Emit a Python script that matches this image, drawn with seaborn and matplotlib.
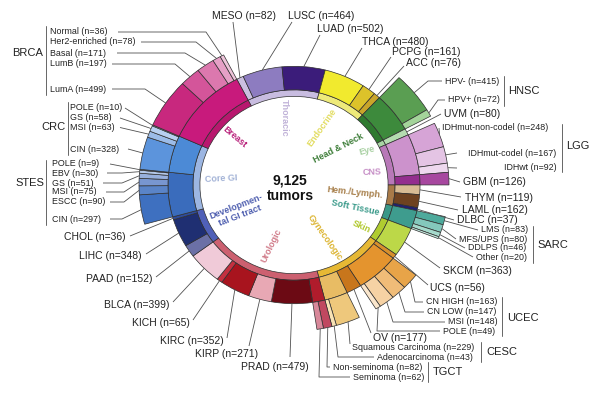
import numpy as np
import matplotlib
matplotlib.use("Agg")
import matplotlib.pyplot as plt
import seaborn as sns

# ---- data -------------------------------------------------------------
cancers = ["MESO", "LUSC", "LUAD", "THCA", "PCPG", "ACC", "HNSC", "UVM", "LGG", "GBM",
           "THYM", "LAML", "DLBC", "SARC", "SKCM", "UCS", "UCEC", "OV", "CESC", "TGCT",
           "PRAD", "KIRP", "KIRC", "KICH", "BLCA", "PAAD", "LIHC", "CHOL", "STES", "CRC", "BRCA"]
cancer_n = [82, 464, 502, 480, 161, 76, 487, 80, 507, 126,
            119, 162, 37, 229, 363, 56, 507, 177, 272, 144,
            479, 271, 352, 65, 399, 152, 348, 36, 552, 459, 981]
cancer_colors = ["#cbbfe0", "#8d7cc0", "#3b1c7a", "#f1ea2e", "#dcc22a", "#c9a52a", "#3d8a3c",
                 "#b4dcb0", "#cc92cc", "#932e8e", "#d8bc94", "#6e4220", "#222070", "#3e9c8e",
                 "#bcd848", "#d8902c", "#e4942e", "#c8761c", "#e8bc64", "#b01c2c", "#6c0a14",
                 "#e8a8b4", "#a8141e", "#c43040", "#f0cad8", "#6b70a6", "#1f2f72", "#2e4c9c",
                 "#3a6cbc", "#4c8ad6", "#c81a7c"]

systems = ["Thoracic", "Endocrine", "Head & Neck", "Eye", "CNS", "Hem./Lymph.", "Soft Tissue",
           "Skin", "Gynecologic", "Urologic", "Developmen-\ntal GI tract", "Core GI", "Breast"]
system_n = [1048, 717, 487, 80, 633, 318, 229, 363, 1012, 1710, 536, 1011, 981]
system_colors = ["#c8bce0", "#eeea7a", "#2f7a30", "#a8d4a4", "#b878b8", "#a87a48", "#3a9888",
                 "#b0cc30", "#e6b834", "#cc6070", "#5060b8", "#9cb6e2", "#b8186e"]
system_text_colors = ["#c0b2d8", "#e2dc5e", "#3f7f3a", "#a6cfa0", "#c68ec6", "#a8804c", "#3a9a8a",
                      "#b0c82c", "#dcb430", "#d07a88", "#5060b0", "#a2b2d6", "#b8207a"]

sub_parent = ["HNSC", "HNSC", "LGG", "LGG", "LGG", "SARC", "SARC", "SARC", "SARC",
              "UCEC", "UCEC", "UCEC", "UCEC", "CESC", "CESC", "TGCT", "TGCT",
              "STES", "STES", "STES", "STES", "STES", "STES", "CRC", "CRC", "CRC", "CRC",
              "BRCA", "BRCA", "BRCA", "BRCA", "BRCA"]
sub_names = ["HPV-", "HPV+", "IDHmut-non-codel", "IDHmut-codel", "IDHwt",
             "LMS", "MFS/UPS", "DDLPS", "Other", "CN HIGH", "CN LOW", "MSI", "POLE",
             "Squamous Carcinoma", "Adenocarcinoma", "Non-seminoma", "Seminoma",
             "CIN", "ESCC", "MSI", "GS", "EBV", "POLE", "CIN", "MSI", "GS", "POLE",
             "LumA", "LumB", "Basal", "Her2-enriched", "Normal"]
sub_n = [415, 72, 248, 167, 92, 83, 80, 46, 20, 163, 147, 148, 49, 229, 43, 82, 62,
         297, 90, 75, 51, 30, 9, 328, 63, 58, 10, 499, 197, 171, 78, 36]
sub_colors = ["#5a9e52", "#a4d49a", "#d6a4d6", "#e4c4e4", "#eed8ee",
              "#4eaa9c", "#84c8bc", "#a6dacc", "#c6eae0",
              "#e8a448", "#f0bc78", "#f6d2a4", "#fae6cc", "#eec87c", "#f8e2b4",
              "#c04860", "#d8889a",
              "#3e70c0", "#5a84c8", "#7896d0", "#98b0dc", "#b4c8e8", "#cfdcf2",
              "#5c94dc", "#9cbce8", "#b8d0f0", "#d4e2f6",
              "#c8287e", "#d4559a", "#dc78ae", "#e6a0c6", "#eec4da"]

# ---- layout -----------------------------------------------------------
CX, CY, RX, RY = 294, 185, 155, 146
START = 117
EDGE = "#2e2e2e"
R_OUT, W_OUT = 1.0, 0.187
R_MID, W_MID = 0.813, 0.161
R_SYS, W_SYS = 0.652, 0.045

sns.set_theme(style="white")
plt.rcParams["font.family"] = ["Liberation Sans", "DejaVu Sans"]

fig = plt.figure(figsize=(6, 4.01), dpi=100)
axd = fig.add_axes([(CX - RX) / 600, (401 - (CY + RY)) / 401, 2 * RX / 600, 2 * RY / 401])
ax = fig.add_axes([0, 0, 1, 1])
ax.set_xlim(0, 600)
ax.set_ylim(401, 0)
ax.axis("off")
ax.patch.set_alpha(0)
ax.set_zorder(2)

wp = dict(edgecolor=EDGE, linewidth=0.5)
axd.pie(system_n, radius=R_SYS, colors=system_colors, startangle=START, counterclock=False,
        wedgeprops=dict(width=W_SYS, **wp))
axd.pie(cancer_n, radius=R_MID, colors=cancer_colors, startangle=START, counterclock=False,
        wedgeprops=dict(width=W_MID, **wp))

# outer ring: subtypes (GBM gets an extended block), gaps elsewhere
outer_vals, outer_cols, outer_keys = [], [], []
for c, n, col in zip(cancers, cancer_n, cancer_colors):
    if c in sub_parent:
        for p, s, sn, sc in zip(sub_parent, sub_names, sub_n, sub_colors):
            if p == c:
                outer_vals.append(sn); outer_cols.append(sc); outer_keys.append(c + ":" + s)
    elif c == "GBM":
        outer_vals.append(n); outer_cols.append("#a7479f"); outer_keys.append("GBM:outer")
    else:
        outer_vals.append(n); outer_cols.append("white"); outer_keys.append(None)
wedges, _ = axd.pie(outer_vals, radius=R_OUT, colors=outer_cols, startangle=START,
                    counterclock=False, wedgeprops=dict(width=W_OUT, **wp))
for w, k in zip(wedges, outer_keys):
    if k is None:
        w.set_visible(False)

axd.set_xlim(-1, 1)
axd.set_ylim(-1, 1)
axd.set_aspect("auto")
axd.axis("off")

# mid angles of every segment
total = sum(cancer_n)
mid_angle = {}
cum = np.cumsum([0] + cancer_n)
for i, c in enumerate(cancers):
    mid_angle[c] = (START - 360 * (cum[i] + cancer_n[i] / 2) / total, R_MID)
cum_o = np.cumsum([0] + outer_vals)
for i, k in enumerate(outer_keys):
    if k is not None:
        mid_angle[k] = (START - 360 * (cum_o[i] + outer_vals[i] / 2) / total, R_OUT)


def ring_point(key):
    a, r = mid_angle[key]
    p = axd.transData.transform((r * np.cos(np.radians(a)), r * np.sin(np.radians(a))))
    return ax.transData.inverted().transform(p)


# label: text, x, y, ha, size, line start x, y, knee x, target
labels = [
    ("MESO (n=82)", 212, 16, "left", 7.5, 233, 22, None, "MESO"),
    ("LUSC (n=464)", 288, 16, "left", 7.5, 292, 22, None, "LUSC"),
    ("LUAD (n=502)", 317, 29, "left", 7.5, 320, 35, None, "LUAD"),
    ("THCA (n=480)", 362, 42, "left", 7.5, 362, 48, None, "THCA"),
    ("PCPG (n=161)", 392, 52, "left", 7.5, 391, 57, None, "PCPG"),
    ("ACC (n=76)", 406, 63, "left", 7.5, 404, 66, None, "ACC"),
    ("HPV- (n=415)", 445, 81, "left", 6.4, 442, 81, 428, "HNSC:HPV-"),
    ("HPV+ (n=72)", 448, 100, "left", 6.4, 445, 100, 438, "HNSC:HPV+"),
    ("UVM (n=80)", 444, 114, "left", 7.5, 441, 114, None, "UVM"),
    ("IDHmut-non-codel (n=248)", 442, 128, "left", 6.4, 439, 128, None, "LGG:IDHmut-non-codel"),
    ("IDHmut-codel (n=167)", 468, 153, "left", 6.4, 457, 153, None, "LGG:IDHmut-codel"),
    ("IDHwt (n=92)", 504, 167, "left", 6.4, 457, 168, None, "LGG:IDHwt"),
    ("GBM (n=126)", 463, 182, "left", 7.5, 460, 182, None, "GBM:outer"),
    ("THYM (n=119)", 465, 198, "left", 7.5, 461, 197, None, "THYM"),
    ("LAML (n=162)", 462, 210, "left", 7.5, 458, 210, None, "LAML"),
    ("DLBC (n=37)", 457, 220, "left", 7.5, 454, 220, None, "DLBC"),
    ("LMS (n=83)", 481, 230, "left", 6.4, 478, 230, None, "SARC:LMS"),
    ("MFS/UPS (n=80)", 459, 239, "left", 6.4, 456, 239, None, "SARC:MFS/UPS"),
    ("DDLPS (n=46)", 468, 248, "left", 6.4, 465, 248, None, "SARC:DDLPS"),
    ("Other (n=20)", 476, 257, "left", 6.4, 473, 257, None, "SARC:Other"),
    ("SKCM (n=363)", 443, 271, "left", 7.5, 440, 268, None, "SKCM"),
    ("UCS (n=56)", 430, 288, "left", 7.5, 428, 285, None, "UCS"),
    ("CN HIGH (n=163)", 426, 302, "left", 6.4, 423, 302, 415, "UCEC:CN HIGH"),
    ("CN LOW (n=147)", 427, 312, "left", 6.4, 424, 312, 405, "UCEC:CN LOW"),
    ("MSI (n=148)", 448, 322, "left", 6.4, 445, 322, 393, "UCEC:MSI"),
    ("POLE (n=49)", 443, 331, "left", 6.4, 440, 331, 377, "UCEC:POLE"),
    ("OV (n=177)", 373, 338, "left", 7.5, 371, 333, None, "OV"),
    ("Squamous Carcinoma (n=229)", 352, 348, "left", 6.4, 350, 344, None, "CESC:Squamous Carcinoma"),
    ("Adenocarcinoma (n=43)", 377, 357, "left", 6.4, 374, 357, 338, "CESC:Adenocarcinoma"),
    ("Non-seminoma (n=82)", 333, 367, "left", 6.4, 330, 367, 327, "TGCT:Non-seminoma"),
    ("Seminoma (n=62)", 353, 377, "left", 6.4, 350, 377, 319, "TGCT:Seminoma"),
    ("PRAD (n=479)", 309, 367, "right", 7.5, 290, 357, None, "PRAD"),
    ("KIRP (n=271)", 258, 354, "right", 7.5, 249, 346, None, "KIRP"),
    ("KIRC (n=352)", 224, 341, "right", 7.5, 227, 338, None, "KIRC"),
    ("KICH (n=65)", 190, 323, "right", 7.5, 193, 320, None, "KICH"),
    ("BLCA (n=399)", 170, 305, "right", 7.5, 173, 302, None, "BLCA"),
    ("PAAD (n=152)", 152, 279, "right", 7.5, 156, 277, None, "PAAD"),
    ("LIHC (n=348)", 142, 256, "right", 7.5, 146, 254, None, "LIHC"),
    ("CHOL (n=36)", 126, 237, "right", 7.5, 130, 236, None, "CHOL"),
    ("POLE (n=9)", 52, 164, "left", 6.4, 110, 164, None, "STES:POLE"),
    ("EBV (n=30)", 52, 173, "left", 6.4, 107, 173, 122, "STES:EBV"),
    ("GS (n=51)", 52, 183, "left", 6.4, 103, 183, 122, "STES:GS"),
    ("MSI (n=75)", 52, 192, "left", 6.4, 106, 192, 124, "STES:MSI"),
    ("ESCC (n=90)", 52, 202, "left", 6.4, 110, 202, 124, "STES:ESCC"),
    ("CIN (n=297)", 52, 219, "left", 6.4, 110, 219, 122, "STES:CIN"),
    ("POLE (n=10)", 70, 108, "left", 6.4, 125, 108, None, "CRC:POLE"),
    ("GS (n=58)", 70, 118, "left", 6.4, 120, 118, None, "CRC:GS"),
    ("MSI (n=63)", 70, 127.5, "left", 6.4, 120, 127.5, None, "CRC:MSI"),
    ("CIN (n=328)", 70, 149, "left", 6.4, 128, 149, None, "CRC:CIN"),
    ("Normal (n=36)", 50, 32, "left", 6.4, 118, 32, 206, "BRCA:Normal"),
    ("Her2-enriched (n=78)", 50, 42, "left", 6.4, 141, 42, 196, "BRCA:Her2-enriched"),
    ("Basal (n=171)", 50, 53, "left", 6.4, 117, 53, 185, "BRCA:Basal"),
    ("LumB (n=197)", 50, 64, "left", 6.4, 112, 64, 175, "BRCA:LumB"),
    ("LumA (n=499)", 50, 89, "left", 6.4, 112, 89, 145, "BRCA:LumA"),
]

LINE = "#505050"
for text, x, y, ha, fs, sx, sy, kx, key in labels:
    ax.text(x, y, text, ha=ha, va="center", fontsize=fs, color="#222222")
    tx, ty = ring_point(key)
    if kx is None:
        ax.plot([sx, tx], [sy, ty], color=LINE, lw=0.6, solid_capstyle="butt")
    else:
        ax.plot([sx, kx, tx], [sy, sy, ty], color=LINE, lw=0.6, solid_capstyle="butt")

# cancer groups with brackets
groups = [
    ("BRCA", 43, 53, "right", 46, 26, 95),
    ("CRC", 66, 127.5, "right", 68, 102, 155),
    ("STES", 44, 183, "right", 46, 160, 225),
    ("HNSC", 508, 91, "left", 504, 76, 106),
    ("LGG", 566, 146, "left", 562, 124, 172),
    ("SARC", 537, 245, "left", 533, 226, 263),
    ("UCEC", 507, 318, "left", 502, 297, 336),
    ("CESC", 486, 352, "left", 481, 342, 362),
    ("TGCT", 433, 372, "left", 428, 362, 382),
]
for name, x, y, ha, bx, y0, y1 in groups:
    ax.text(x, y, name, ha=ha, va="center", fontsize=8, color="#222222")
    ax.plot([bx, bx], [y0, y1], color="#666666", lw=0.7)

# organ system names inside the ring
sys_pos = [(284, 118, -90), (322, 128, 55), (338, 148, 27), (367, 151, 15), (372, 172, 2),
           (355, 192, -6), (355, 208, -12), (361, 227, -25), (325, 238, -55), (271, 246, 64),
           (238, 211, 21), (221, 179, 3), (235, 137, -40)]
for name, col, (x, y, rot) in zip(systems, system_text_colors, sys_pos):
    ax.text(x, y, name, ha="center", va="center", rotation=rot, fontsize=6.5,
            fontweight="bold", color=col, linespacing=1.0, rotation_mode="anchor")

ax.text(290, 188, "9,125\ntumors", ha="center", va="center", fontsize=10,
        fontweight="bold", color="#111111", linespacing=1.1)

fig.savefig("out.png", dpi=100)
